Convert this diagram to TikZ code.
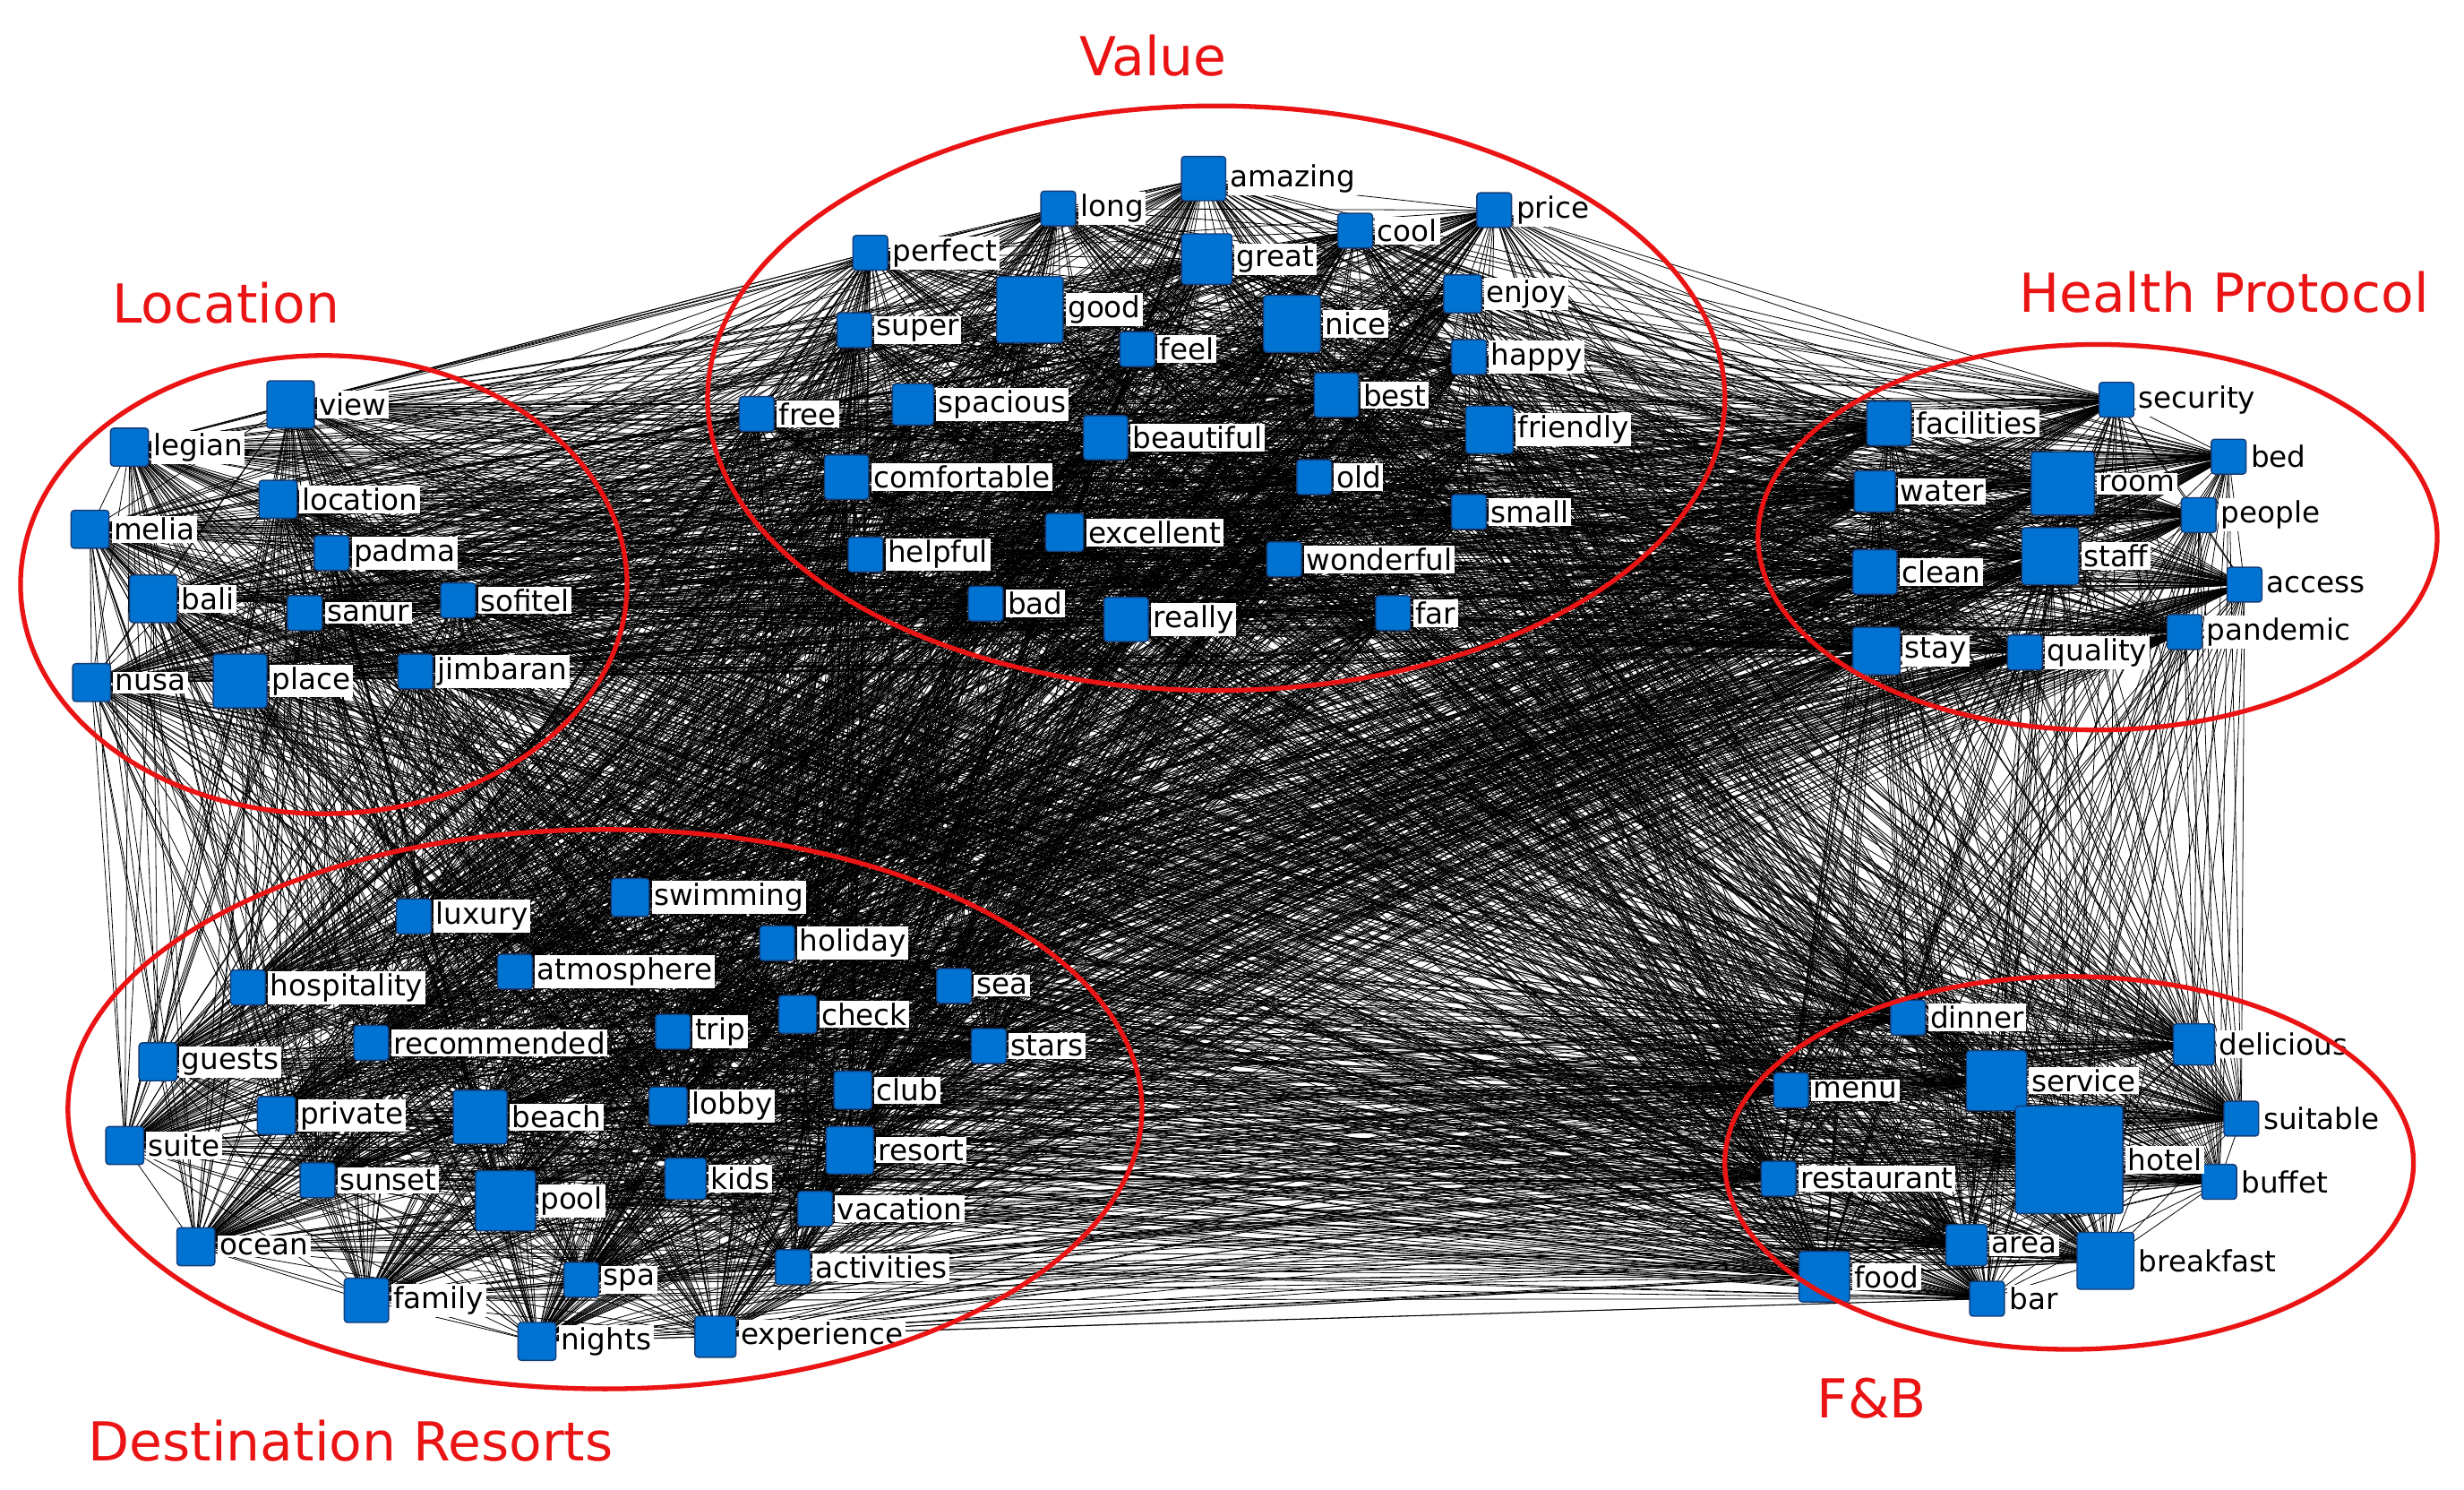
\documentclass[tikz,border=0pt]{standalone}
\usepackage{fontspec}
\setmainfont{DejaVu Sans}
\usetikzlibrary{backgrounds}
\definecolor{nb}{RGB}{0,114,210}
\definecolor{nbd}{RGB}{20,60,120}
\definecolor{rd}{RGB}{235,20,20}
\begin{document}
\begin{tikzpicture}[x=1pt,y=-1pt,
  sq/.style={draw=nbd,line width=0.8pt,fill=nb,rounded corners=2pt,inner sep=0pt,minimum size=#1},
  lbl/.style={fill=white,inner sep=1.5pt,font=\fontsize{18.5}{20}\selectfont,anchor=west},
  grp/.style={draw=rd,line width=3pt},
  ttl/.style={text=rd,font=\fontsize{34}{36}\selectfont}]
\useasboundingbox (0,0) rectangle (1560,943);
\def\allnodes{amazing/762/113/28,long/670/132/22,cool/858/146/22,price/946/133/22,perfect/551/160/22,great/764/164/32,good/652/196/42,nice/818/205/36,enjoy/926/186/24,super/541/209/22,feel/720/221/22,happy/930/226/22,spacious/578/256/26,best/846/250/28,free/479/262/22,beautiful/700/277/28,friendly/943/272/30,comfortable/536/302/28,old/832/302/22,small/930/324/22,excellent/674/337/24,helpful/548/351/22,wonderful/813/354/22,bad/624/382/22,really/713/392/28,far/882/388/22,
view/184/256/30,legian/82/283/24,location/176/316/24,melia/57/335/24,padma/210/350/22,bali/97/379/30,sanur/193/388/22,sofitel/290/380/22,nusa/58/432/24,place/152/431/34,jimbaran/263/425/22,
facilities/1196/268/28,security/1340/253/22,bed/1411/289/22,water/1187/311/26,room/1306/306/40,people/1392/326/22,clean/1187/362/28,staff/1298/352/36,access/1421/370/22,stay/1188/412/30,quality/1282/413/22,pandemic/1383/400/22,
swimming/399/568/24,luxury/262/580/22,holiday/492/597/22,hospitality/157/625/22,atmosphere/326/615/22,sea/604/624/22,check/505/642/24,trip/426/653/22,stars/626/662/22,recommended/235/660/22,guests/100/672/24,club/540/690/24,private/175/706/24,beach/304/707/34,lobby/423/700/24,suite/79/725/24,resort/538/728/30,sunset/201/747/22,pool/320/760/38,kids/434/746/26,vacation/516/765/22,ocean/124/789/24,spa/368/810/22,activities/502/802/22,family/232/823/28,nights/340/849/24,experience/453/846/26,
dinner/1208/644/22,delicious/1389/661/26,service/1264/684/38,menu/1134/690/22,hotel/1310/734/68,suitable/1419/708/22,restaurant/1126/746/22,buffet/1405/748/22,area/1245/788/26,breakfast/1333/798/36,food/1155/808/32,bar/1258/822/22}
\foreach \n/\x/\y/\s in \allnodes {
  \node[sq=\s pt] (\n) at (\x,\y) {};
}
\begin{pgfonlayer}{background}
\fill[white] (0,0) rectangle (1560,943);
\foreach \a/\xa/\ya/\sa [count=\i] in \allnodes {
  \foreach \b/\xb/\yb/\sb [count=\j] in \allnodes {
    \ifnum\j>\i \draw[line width=0.45pt,black] (\a.center) -- (\b.center);\fi
  }
}
\end{pgfonlayer}
\foreach \n/\x/\y/\s in \allnodes {
  \node[lbl] (\n-l) at ([xshift=1pt]\n.east) {\n};
}
\draw[grp] (770,252) ellipse [x radius=322, y radius=185];
\draw[grp] (205,370) ellipse [x radius=192, y radius=145];
\draw[grp] (1328,340) ellipse [x radius=215, y radius=122];
\draw[grp] (383,702) ellipse [x radius=340, y radius=177];
\draw[grp] (1310,736) ellipse [x radius=218, y radius=118];
\node[ttl] (t1) at (730,35) {Value};
\node[ttl] (t2) at (143,192) {Location};
\node[ttl] (t3) at (1408,185) {Health Protocol};
\node[ttl] (t4) at (222,912) {Destination Resorts};
\node[ttl] (t5) at (1185,885) {F\&B};
\end{tikzpicture}
\end{document}
